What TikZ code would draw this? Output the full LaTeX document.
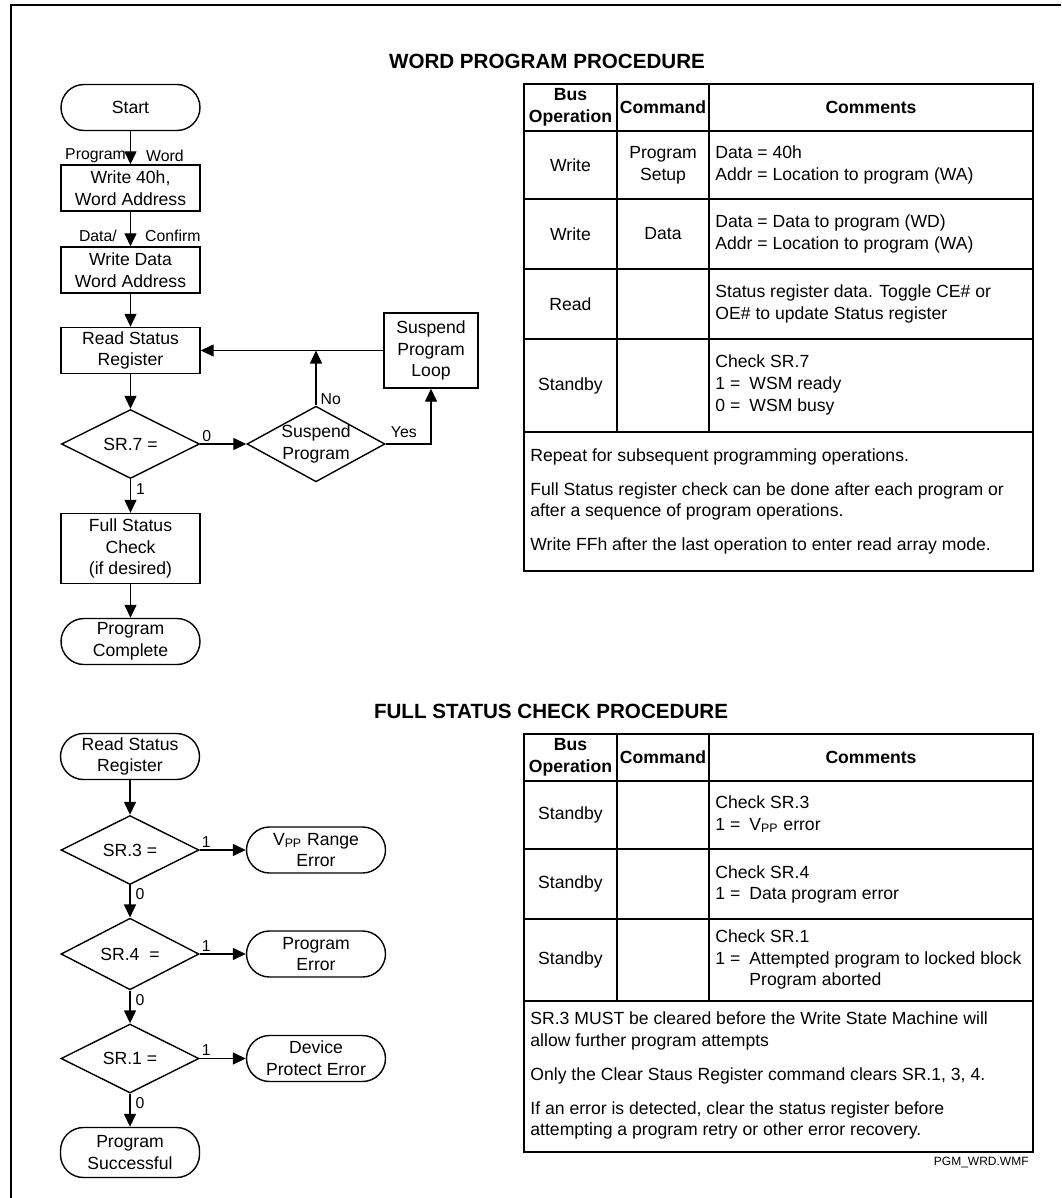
\documentclass[tikz,border=0pt]{standalone}
\usepackage{fontspec}
\setmainfont{Liberation Sans}
\usetikzlibrary{shapes.geometric,arrows.meta}

\newcommand{\bitval}[1]{\makebox[17pt][l]{#1}}

\tikzset{
  box/.style={draw, line width=0.7pt, minimum width=69.5pt, minimum height=23pt, align=center, inner sep=1pt},
  term/.style={box, rounded corners=11.5pt},
  decide/.style={draw, diamond, line width=0.7pt, minimum width=69pt, minimum height=34.5pt, inner sep=0pt, align=center},
  flow/.style={line width=0.7pt, -{Triangle[length=6.5pt,width=6pt]}},
  lbl/.style={inner sep=1pt, font=\fontsize{7.9}{9}\selectfont},
  grid/.style={line width=0.9pt},
  cmt/.style={anchor=west, align=left, inner sep=0pt},
  head/.style={align=center, inner sep=0pt, font=\fontsize{8.8}{10.9}\selectfont\bfseries},
  title/.style={font=\fontsize{10.3}{12}\selectfont\bfseries}
}

\begin{document}
\begin{tikzpicture}[x=0.5pt, y=-0.5pt, font=\fontsize{8.8}{10.9}\selectfont]
    \useasboundingbox (0,0) rectangle (1061,1198);
    \draw[line width=1.1pt] (11,1198) -- (11,5) -- (1061,5);

    % word program procedure
    \node[title] (title1) at (547,61) {WORD PROGRAM PROCEDURE};
    \node[term] (start) at (130.5,107.5) {Start};
    \node[box, below of=start, node distance=40.25pt] (addr) {Write 40h,\\Word Address};
    \node[box, below of=addr, node distance=41pt] (data) {Write Data\\Word Address};
    \node[box, below of=data, node distance=40.25pt] (rdsr) {Read Status\\Register};
    \node[decide, below of=rdsr, node distance=46.75pt] (sr7) {SR.7 =};
    \node[decide, right of=sr7, node distance=92.75pt, inner sep=-4pt] (susp) {Suspend\\Program};
    \node[box, minimum width=47pt, minimum height=37.5pt] (loop) at (431,350.5) {Suspend\\Program\\Loop};
    \node[box, below of=sr7, node distance=52.25pt, minimum height=35pt] (fsc) {Full Status\\Check\\(if desired)};
    \node[term, below of=fsc, node distance=46.5pt] (done) {Program\\Complete};

    \draw[flow] (start) -- node[lbl, pos=0.74, left=1pt] {Program} node[lbl, pos=0.74, right=6.5pt] {Word} (addr);
    \draw[flow] (addr) -- node[lbl, pos=0.7, left=5.5pt] {Data/} node[lbl, pos=0.7, right=6pt] {Confirm} (data);
    \draw[flow] (data) -- (rdsr);
    \draw[flow] (rdsr) -- (sr7);
    \draw[flow] (sr7) -- node[lbl, pos=0.14, above=0pt] {0} (susp);
    \draw[flow] (susp) -- node[lbl, pos=0.12, right=1pt] {No} (susp |- rdsr);
    \draw[flow] (susp) -| node[lbl, pos=0.2, above=2pt] {Yes} (loop);
    \draw[flow] (loop) -- (rdsr);
    \draw[flow] (sr7) -- node[lbl, pos=0.3, right=1.5pt] {1} (fsc);
    \draw[flow] (fsc) -- (done);

    % table for word program
    \draw[grid] (524,84) rectangle (1033,571);
    \draw[grid] (524,131) -- (1033,131);
    \draw[grid] (524,199) -- (1033,199);
    \draw[grid] (524,269) -- (1033,269);
    \draw[grid] (524,339) -- (1033,339);
    \draw[grid] (524,432) -- (1033,432);
    \draw[grid] (617,84) -- (617,432);
    \draw[grid] (709,84) -- (709,432);
    \node[head] (hop1) at (570.5,107.5) {Bus\\Operation};
    \node[head] (hcmd1) at (663,107.5) {Command};
    \node[head] (hcmt1) at (871,107.5) {Comments};
    \node (op11) at (570.5,165) {Write};
    \node[align=center] (cmd11) at (663,165) {Program\\Setup};
    \node[cmt] (cmt11) at (715,165) {Data = 40h\\Addr = Location to program (WA)};
    \node (op12) at (570.5,234) {Write};
    \node (cmd12) at (663,234) {Data};
    \node[cmt] (cmt12) at (715,234) {Data = Data to program (WD)\\Addr = Location to program (WA)};
    \node (op13) at (570.5,304) {Read};
    \node[cmt] (cmt13) at (715,304) {Status register data. Toggle CE\# or\\OE\# to update Status register};
    \node (op14) at (570.5,385.5) {Standby};
    \node[cmt] (cmt14) at (715,385) {Check SR.7\\\bitval{1 =}WSM ready\\\bitval{0 =}WSM busy};
    \node[cmt] (note11) at (530,457) {Repeat for subsequent programming operations.};
    \node[cmt] (note12) at (530,501.5) {Full Status register check can be done after each program or\\after a sequence of program operations.};
    \node[cmt] (note13) at (530,546) {Write FFh after the last operation to enter read array mode.};

    % full status check procedure
    \node[title] (title2) at (551,711) {FULL STATUS CHECK PROCEDURE};
    \node[term] (rdsr2) at (130,756.5) {Read Status\\Register};
    \node[decide, below of=rdsr2, node distance=46.75pt] (sr3) {SR.3 =};
    \node[decide, below of=sr3, node distance=52pt] (sr4) {SR.4 \ =};
    \node[decide, below of=sr4, node distance=52.25pt] (sr1) {SR.1 =};
    \node[term, below of=sr1, node distance=47pt, minimum height=25pt] (okay) {Program\\Successful};
    \node[term, right of=sr3, node distance=93pt] (vpp) {V\textsubscript{PP} Range\\Error};
    \node[term, right of=sr4, node distance=93pt] (pgmerr) {Program\\Error};
    \node[term, right of=sr1, node distance=93pt] (prot) {Device\\Protect Error};

    \draw[flow] (rdsr2) -- (sr3);
    \draw[flow] (sr3) -- node[lbl, pos=0.14, above=0pt] {1} (vpp);
    \draw[flow] (sr3) -- node[lbl, pos=0.28, right=1.5pt] {0} (sr4);
    \draw[flow] (sr4) -- node[lbl, pos=0.14, above=0pt] {1} (pgmerr);
    \draw[flow] (sr4) -- node[lbl, pos=0.28, right=1.5pt] {0} (sr1);
    \draw[flow] (sr1) -- node[lbl, pos=0.14, above=0pt] {1} (prot);
    \draw[flow] (sr1) -- node[lbl, pos=0.28, right=1.5pt] {0} (okay);

    % table for full status check
    \draw[grid] (524,734) rectangle (1033,1152);
    \draw[grid] (524,781) -- (1033,781);
    \draw[grid] (524,849) -- (1033,849);
    \draw[grid] (524,919) -- (1033,919);
    \draw[grid] (524,1001) -- (1033,1001);
    \draw[grid] (617,734) -- (617,1001);
    \draw[grid] (709,734) -- (709,1001);
    \node[head] (hop2) at (570.5,757.5) {Bus\\Operation};
    \node[head] (hcmd2) at (663,757.5) {Command};
    \node[head] (hcmt2) at (871,757.5) {Comments};
    \node (op21) at (570.5,815) {Standby};
    \node[cmt] (cmt21) at (715,814.5) {Check SR.3\\\bitval{1 =}V\textsubscript{PP} error};
    \node (op22) at (570.5,884) {Standby};
    \node[cmt] (cmt22) at (715,884.5) {Check SR.4\\\bitval{1 =}Data program error};
    \node (op23) at (570.5,960) {Standby};
    \node[cmt] (cmt23) at (715,959.5) {Check SR.1\\\bitval{1 =}Attempted program to locked block\\\bitval{}Program aborted};
    \node[cmt] (note21) at (530,1031) {SR.3 MUST be cleared before the Write State Machine will\\allow further program attempts};
    \node[cmt] (note22) at (530,1076) {Only the Clear Staus Register command clears SR.1, 3, 4.};
    \node[cmt] (note23) at (530,1120.5) {If an error is detected, clear the status register before\\attempting a program retry or other error recovery.};
    \node[anchor=east, inner sep=0pt, font=\fontsize{6}{7}\selectfont] (fname) at (1029,1162) {PGM\_WRD.WMF};
\end{tikzpicture}
\end{document}
